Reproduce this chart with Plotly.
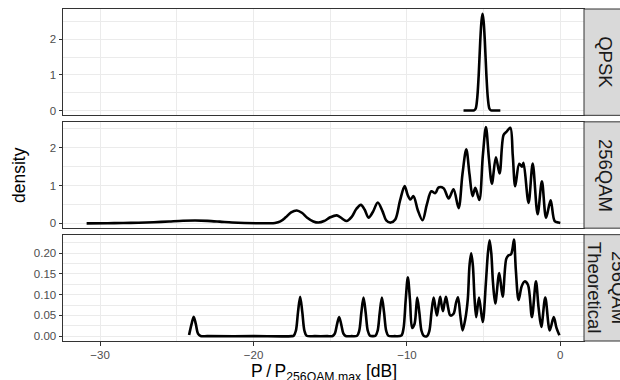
import plotly.graph_objects as go

# ---------------- data ----------------
panel_labels = ["QPSK", "256QAM", "256QAM<br>Theoretical"]

qpsk_x = [-6.31, -5.9, -5.62, -5.52, -5.42, -5.32, -5.22, -5.14, -5.07, -5.00, -4.92, -4.82, -4.72, -4.62, -4.52, -4.2, -3.91]
qpsk_y = [0.0, 0.0, 0.005, 0.05, 0.33, 1.0, 1.95, 2.5, 2.71, 2.5, 1.95, 1.0, 0.33, 0.05, 0.005, 0.0, 0.0]

qam_x = [-30.88, -29.5, -28.5, -27.5, -26.5, -25.5, -24.6, -23.8, -23.0, -22.2, -21.4, -20.6, -19.8, -19.0,
         -18.6, -18.25, -17.9, -17.55, -17.18, -16.85, -16.5, -16.1, -15.77, -15.4, -15.0, -14.57, -14.2, -13.93,
         -13.6, -13.3, -13.0, -12.75, -12.5, -12.22, -11.9, -11.6, -11.35, -11.05, -10.76, -10.45, -10.15,
         -9.95, -9.78, -9.57, -9.3, -8.98, -8.7, -8.41, -8.15, -7.94, -7.61, -7.28, -6.96, -6.63, -6.38,
         -6.13, -5.92, -5.72, -5.54, -5.28, -5.05, -4.85, -4.65, -4.46, -4.2, -3.96, -3.7, -3.52, -3.26,
         -3.1, -2.94, -2.68, -2.5, -2.4, -2.07, -1.8, -1.48, -1.2, -0.93, -0.63, -0.37, -0.11, 0.0]
qam_y = [0.0, 0.003, 0.008, 0.015, 0.03, 0.05, 0.068, 0.075, 0.066, 0.045, 0.022, 0.008, 0.003, 0.002,
         0.01, 0.05, 0.16, 0.29, 0.34, 0.28, 0.15, 0.05, 0.02, 0.06, 0.16, 0.21, 0.12, 0.06,
         0.17, 0.38, 0.49, 0.36, 0.15, 0.3, 0.55, 0.33, 0.08, 0.02, 0.1, 0.6, 0.99,
         0.75, 0.63, 0.72, 0.36, 0.08, 0.5, 0.85, 0.8, 0.95, 0.93, 0.66, 0.9, 0.4, 1.3,
         1.96, 1.3, 0.72, 0.94, 0.62, 1.8, 2.55, 1.7, 1.05, 1.75, 1.32, 2.34, 2.42, 2.53,
         1.8, 0.98, 1.58, 1.5, 1.6, 0.54, 1.58, 0.24, 1.11, 0.15, 0.61, 0.06, 0.02, 0.01]

theo_x = [-24.2, -24.04, -23.9, -23.76, -23.62, -23.45, -23.0, -20.0, -17.5,
          -17.38, -17.24, -17.1, -16.96, -16.82, -16.68, -16.54, -16.0, -15.2,
          -14.84, -14.7, -14.56, -14.42, -14.28, -14.14, -14.0, -13.6,
          -13.25, -13.11, -12.97, -12.83, -12.69, -12.55, -12.41, -12.23,
          -12.05, -11.91, -11.77, -11.63, -11.49, -11.35, -11.21, -10.8,
          -10.36, -10.22, -10.08, -9.94, -9.80, -9.66, -9.5, -9.33, -9.19, -9.05, -8.91, -8.69,
          -8.54, -8.40, -8.26, -8.15, -8.04, -7.93, -7.83, -7.74, -7.65, -7.55, -7.45, -7.32, -7.17,
          -6.96, -6.80, -6.67, -6.52, -6.37, -6.2, -6.03, -5.92, -5.81, -5.70, -5.59, -5.48, -5.3, -5.06,
          -4.85, -4.72, -4.61, -4.50, -4.39, -4.24, -3.98, -3.76, -3.52, -3.37, -3.22, -3.12, -3.02,
          -2.90, -2.72, -2.52, -2.33, -2.11, -1.85, -1.59, -1.42, -1.24, -0.98, -0.69, -0.43, -0.25, -0.06]
theo_y = [0.003, 0.029, 0.047, 0.029, 0.006, 0.0005, 0.0, 0.0, 0.0,
          0.001, 0.013, 0.058, 0.095, 0.058, 0.013, 0.001, 0.0, 0.0,
          0.0005, 0.006, 0.028, 0.046, 0.028, 0.006, 0.0005, 0.0,
          0.001, 0.013, 0.057, 0.093, 0.057, 0.013, 0.001, 0.0,
          0.001, 0.013, 0.057, 0.093, 0.057, 0.013, 0.001, 0.0,
          0.0015, 0.019, 0.087, 0.142, 0.087, 0.02, 0.03, 0.093, 0.057, 0.013, 0.001, 0.0,
          0.012, 0.057, 0.093, 0.07, 0.05, 0.075, 0.095, 0.075, 0.06, 0.08, 0.095, 0.07, 0.05,
          0.054, 0.08, 0.094, 0.05, 0.014, 0.04, 0.09, 0.17, 0.2, 0.17, 0.09, 0.046, 0.093, 0.034,
          0.13, 0.2, 0.231, 0.2, 0.13, 0.079, 0.152, 0.095, 0.187, 0.195, 0.197, 0.21, 0.233,
          0.16, 0.087, 0.12, 0.132, 0.124, 0.046, 0.132, 0.07, 0.022, 0.093, 0.014, 0.046, 0.02, 0.002]

x_ticks = [-30, -20, -10, 0]
x_tick_labels = ["\u221230", "\u221220", "\u221210", "0"]

# ---------------- figure ----------------
W, H = 620, 380
ml, mr, mt, mb = 63, 36, 9, 39
ph = H - mt - mb
gap = 6.5
h = (ph - 2 * gap) / 3
domains = [
    [(2 * h + 2 * gap) / ph, 1.0],
    [(h + gap) / ph, (2 * h + gap) / ph],
    [0.0, h / ph],
]
series = [(qpsk_x, qpsk_y), (qam_x, qam_y), (theo_x, theo_y)]
yranges = [[-0.1355, 2.846], [-0.128, 2.688], [-0.01165, 0.2447]]
ydticks = [1, 1, 0.05]
yminor = [0.5, 0.5, 0.025]
yfmt = ["d", "d", ".2f"]

FONT = "Liberation Sans, Arial, Helvetica, sans-serif"
GRID = "#EBEBEB"
BORDER = "#333333"

fig = go.Figure()
layout = dict(
    width=W, height=H,
    margin=dict(l=ml, r=mr, t=mt, b=mb, pad=0),
    paper_bgcolor="white", plot_bgcolor="white",
    showlegend=False,
    font=dict(family=FONT, color="#4D4D4D", size=11.5),
)

for i, (xs, ys) in enumerate(series):
    n = "" if i == 0 else str(i + 1)
    fig.add_trace(go.Scatter(
        x=xs, y=ys, mode="lines", xaxis="x" + n, yaxis="y" + n,
        line=dict(color="black", width=2.6, shape="spline", smoothing=0.9),
        hoverinfo="skip",
    ))
    bottom = (i == 2)
    layout["xaxis" + n] = dict(
        domain=[0, 1], anchor="y" + n, range=[-32.42, 1.544],
        matches=None if i == 0 else "x",
        tickmode="array", tickvals=x_ticks, ticktext=x_tick_labels,
        showticklabels=bottom, ticks="outside" if bottom else "", ticklen=3.5,
        tickwidth=1, tickcolor=BORDER,
        showgrid=True, gridcolor=GRID, gridwidth=1.1,
        minor=dict(dtick=5, tick0=0, showgrid=True, gridcolor=GRID, gridwidth=0.55, ticks=""),
        showline=True, mirror=True, linecolor=BORDER, linewidth=1,
        zeroline=False,
        tickfont=dict(size=11.5, color="#4D4D4D", family=FONT),
    )
    layout["yaxis" + n] = dict(
        domain=domains[i], anchor="x" + n, range=yranges[i],
        dtick=ydticks[i], tick0=0, tickformat=yfmt[i],
        ticks="outside", ticklen=3.5, tickwidth=1, tickcolor=BORDER,
        showgrid=True, gridcolor=GRID, gridwidth=1.1,
        minor=dict(dtick=yminor[i], tick0=0, showgrid=True, gridcolor=GRID, gridwidth=0.55, ticks=""),
        showline=True, mirror=True, linecolor=BORDER, linewidth=1,
        zeroline=False,
        tickfont=dict(size=11.5, color="#4D4D4D", family=FONT),
    )

fig.update_layout(**layout)

# strips
pw = W - ml - mr
strip_w = 44
shapes = []
annotations = []
for i, lab in enumerate(panel_labels):
    y0, y1 = domains[i]
    shapes.append(dict(type="rect", xref="paper", yref="paper",
                       x0=1.0, x1=1.0 + strip_w / pw, y0=y0, y1=y1,
                       fillcolor="#D9D9D9", line=dict(color=BORDER, width=1), layer="above"))
    annotations.append(dict(text=lab, xref="paper", yref="paper",
                            x=1.0 + (strip_w / 2) / pw, y=(y0 + y1) / 2,
                            xanchor="center", yanchor="middle", textangle=90,
                            showarrow=False, font=dict(size=18.5, color="#1A1A1A", family=FONT)))

# axis titles
annotations.append(dict(text="density", xref="paper", yref="paper",
                        x=-(ml - 19) / pw, y=sum(domains[1]) / 2,
                        xanchor="center", yanchor="middle", textangle=-90, showarrow=False,
                        font=dict(size=17.5, color="black", family=FONT)))
annotations.append(dict(text="P\u2009/\u2009P<sub>256QAM.max</sub> [dB]", xref="paper", yref="paper",
                        x=0.5, y=-(359 - (H - mb)) / ph,
                        xanchor="center", yanchor="top", showarrow=False,
                        font=dict(size=17.5, color="black", family=FONT)))

fig.update_layout(shapes=shapes, annotations=annotations)
fig.write_html("out.html")
